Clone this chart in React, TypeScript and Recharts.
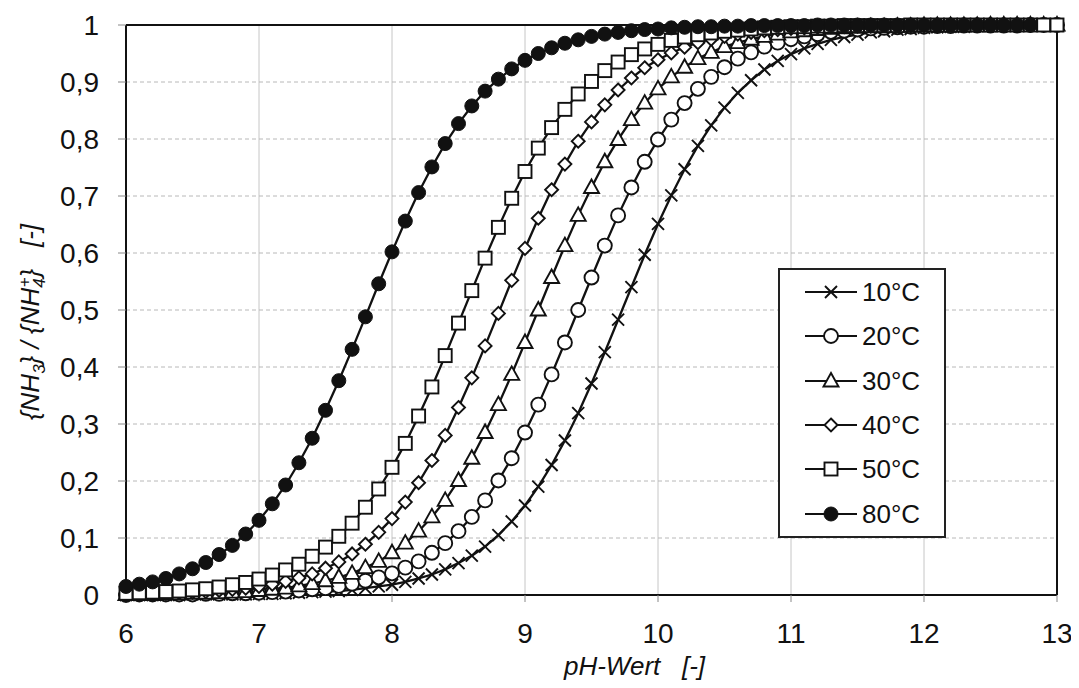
import React from 'react';

import {
  CartesianGrid,
  Legend,
  Line,
  LineChart,
  ReferenceLine,
  XAxis,
  YAxis,
} from 'recharts';

const FONT = '"Liberation Sans", Arial, sans-serif';
const INK = '#111';

const phValues = [
  6.0, 6.1, 6.2, 6.3, 6.4, 6.5, 6.6, 6.7, 6.8, 6.9,
  7.0, 7.1, 7.2, 7.3, 7.4, 7.5, 7.6, 7.7, 7.8, 7.9,
  8.0, 8.1, 8.2, 8.3, 8.4, 8.5, 8.6, 8.7, 8.8, 8.9,
  9.0, 9.1, 9.2, 9.3, 9.4, 9.5, 9.6, 9.7, 9.8, 9.9,
  10.0, 10.1, 10.2, 10.3, 10.4, 10.5, 10.6, 10.7, 10.8, 10.9,
  11.0, 11.1, 11.2, 11.3, 11.4, 11.5, 11.6, 11.7, 11.8, 11.9,
  12.0, 12.1, 12.2, 12.3, 12.4, 12.5, 12.6, 12.7, 12.8, 12.9,
  13.0,
];

const t10 = [
  0.000, 0.000, 0.000, 0.000, 0.000, 0.001, 0.001, 0.001, 0.001, 0.001,
  0.002, 0.002, 0.003, 0.004, 0.005, 0.006, 0.007, 0.009, 0.012, 0.015,
  0.018, 0.023, 0.029, 0.036, 0.045, 0.056, 0.069, 0.085, 0.105, 0.129,
  0.157, 0.190, 0.228, 0.271, 0.319, 0.371, 0.426, 0.483, 0.540, 0.597,
  0.651, 0.701, 0.747, 0.788, 0.824, 0.855, 0.881, 0.903, 0.922, 0.937,
  0.949, 0.959, 0.967, 0.974, 0.979, 0.983, 0.987, 0.989, 0.992, 0.993,
  0.995, 0.996, 0.997, 0.997, 0.998, 0.998, 0.999, 0.999, 0.999, 0.999,
  0.999,
];

const t20 = [
  0.000, 0.001, 0.001, 0.001, 0.001, 0.001, 0.002, 0.002, 0.003, 0.003,
  0.004, 0.005, 0.006, 0.008, 0.010, 0.012, 0.016, 0.020, 0.025, 0.031,
  0.038, 0.048, 0.059, 0.074, 0.091, 0.112, 0.137, 0.166, 0.201, 0.240,
  0.285, 0.334, 0.387, 0.443, 0.500, 0.557, 0.613, 0.666, 0.715, 0.760,
  0.799, 0.834, 0.863, 0.888, 0.909, 0.926, 0.941, 0.952, 0.962, 0.969,
  0.975, 0.980, 0.984, 0.988, 0.990, 0.992, 0.994, 0.995, 0.996, 0.997,
  0.997, 0.998, 0.998, 0.999, 0.999, 0.999, 0.999, 0.999, 1.000, 1.000,
  1.000,
];

const t30 = [
  0.001, 0.001, 0.001, 0.002, 0.002, 0.003, 0.003, 0.004, 0.005, 0.006,
  0.008, 0.010, 0.012, 0.016, 0.020, 0.025, 0.031, 0.038, 0.048, 0.059,
  0.074, 0.091, 0.112, 0.137, 0.166, 0.201, 0.240, 0.285, 0.334, 0.387,
  0.443, 0.500, 0.557, 0.613, 0.666, 0.715, 0.760, 0.799, 0.834, 0.863,
  0.888, 0.909, 0.926, 0.941, 0.952, 0.962, 0.969, 0.975, 0.980, 0.984,
  0.988, 0.990, 0.992, 0.994, 0.995, 0.996, 0.997, 0.997, 0.998, 0.998,
  0.999, 0.999, 0.999, 0.999, 0.999, 1.000, 1.000, 1.000, 1.000, 1.000,
  1.000,
];

const t40 = [
  0.002, 0.002, 0.002, 0.003, 0.004, 0.005, 0.006, 0.008, 0.010, 0.012,
  0.015, 0.019, 0.024, 0.030, 0.037, 0.047, 0.058, 0.072, 0.089, 0.110,
  0.134, 0.163, 0.197, 0.236, 0.280, 0.329, 0.381, 0.437, 0.494, 0.552,
  0.608, 0.661, 0.711, 0.756, 0.796, 0.830, 0.860, 0.886, 0.907, 0.925,
  0.939, 0.951, 0.961, 0.969, 0.975, 0.980, 0.984, 0.987, 0.990, 0.992,
  0.994, 0.995, 0.996, 0.997, 0.997, 0.998, 0.998, 0.999, 0.999, 0.999,
  0.999, 0.999, 1.000, 1.000, 1.000, 1.000, 1.000, 1.000, 1.000, 1.000,
  1.000,
];

const t50 = [
  0.003, 0.004, 0.005, 0.006, 0.007, 0.009, 0.011, 0.014, 0.018, 0.022,
  0.028, 0.035, 0.044, 0.054, 0.068, 0.084, 0.103, 0.126, 0.154, 0.186,
  0.224, 0.266, 0.314, 0.365, 0.420, 0.477, 0.534, 0.591, 0.645, 0.696,
  0.743, 0.784, 0.820, 0.852, 0.879, 0.901, 0.920, 0.935, 0.948, 0.958,
  0.966, 0.973, 0.979, 0.983, 0.986, 0.989, 0.991, 0.993, 0.995, 0.996,
  0.997, 0.997, 0.998, 0.998, 0.999, 0.999, 0.999, 0.999, 0.999, 1.000,
  1.000, 1.000, 1.000, 1.000, 1.000, 1.000, 1.000, 1.000, 1.000, 1.000,
  1.000,
];

// 80°C stops at pH 12.8 in the source, the 50°C squares close the row
const t80 = [
  0.015, 0.019, 0.023, 0.029, 0.037, 0.046, 0.057, 0.071, 0.087, 0.107,
  0.131, 0.160, 0.193, 0.232, 0.275, 0.324, 0.376, 0.431, 0.488, 0.546,
  0.602, 0.656, 0.706, 0.751, 0.792, 0.827, 0.858, 0.884, 0.905, 0.923,
  0.938, 0.950, 0.960, 0.968, 0.974, 0.980, 0.984, 0.987, 0.990, 0.992,
  0.993, 0.995, 0.996, 0.997, 0.997, 0.998, 0.998, 0.999, 0.999, 0.999,
  0.999, 0.999, 1.000, 1.000, 1.000, 1.000, 1.000, 1.000, 1.000, 1.000,
  1.000, 1.000, 1.000, 1.000, 1.000, 1.000, 1.000, 1.000, 1.000,
];

const xTicks = [6, 7, 8, 9, 10, 11, 12, 13];
const yTicks = [0, 0.1, 0.2, 0.3, 0.4, 0.5, 0.6, 0.7, 0.8, 0.9, 1];

type Shape = 'cross' | 'circle' | 'triangle' | 'diamond' | 'square' | 'dot';

interface Series {
  key: string;
  name: string;
  shape: Shape;
}

const series: Series[] = [
  { key: 't10', name: '10°C', shape: 'cross' },
  { key: 't20', name: '20°C', shape: 'circle' },
  { key: 't30', name: '30°C', shape: 'triangle' },
  { key: 't40', name: '40°C', shape: 'diamond' },
  { key: 't50', name: '50°C', shape: 'square' },
  { key: 't80', name: '80°C', shape: 'dot' },
];

const rows = phValues.map((ph, i) => ({
  ph,
  t10: t10[i],
  t20: t20[i],
  t30: t30[i],
  t40: t40[i],
  t50: t50[i],
  t80: t80[i],
}));

const formatComma = (v: number): string => String(v).replace('.', ',');

const Marker = ({
  shape,
  cx,
  cy,
}: {
  shape: Shape;
  cx: number;
  cy: number;
}): JSX.Element => {
  const common = { stroke: INK, strokeWidth: 1.9 };
  switch (shape) {
    case 'cross':
      return (
        <path
          d={`M${cx - 6},${cy - 6}L${cx + 6},${cy + 6}M${cx - 6},${cy + 6}L${cx + 6},${cy - 6}`}
          fill="none"
          {...common}
        />
      );
    case 'circle':
      return <circle cx={cx} cy={cy} r={7} fill="#fff" {...common} />;
    case 'triangle':
      return (
        <polygon
          points={`${cx},${cy - 8} ${cx + 7.5},${cy + 5.5} ${cx - 7.5},${cy + 5.5}`}
          fill="#fff"
          {...common}
        />
      );
    case 'diamond':
      return (
        <polygon
          points={`${cx},${cy - 6.5} ${cx + 6.5},${cy} ${cx},${cy + 6.5} ${cx - 6.5},${cy}`}
          fill="#fff"
          {...common}
        />
      );
    case 'square':
      return (
        <rect x={cx - 6.5} y={cy - 6.5} width={13} height={13} fill="#fff" {...common} />
      );
    default:
      return <circle cx={cx} cy={cy} r={7} fill={INK} stroke={INK} strokeWidth={1} />;
  }
};

const renderDot =
  (shape: Shape) =>
  (props: any): JSX.Element => {
    const { cx, cy, index } = props;
    if (cx == null || cy == null) return <g key={`none-${index}`} />;
    return (
      <g key={`dot-${index}`}>
        <Marker shape={shape} cx={cx} cy={cy} />
      </g>
    );
  };

const LegendBox = (): JSX.Element => (
  <div
    style={{
      width: 168,
      height: 270,
      boxSizing: 'border-box',
      border: `2px solid #222`,
      background: '#fff',
      display: 'flex',
      flexDirection: 'column',
      justifyContent: 'space-around',
      fontFamily: FONT,
      fontSize: 26,
      color: INK,
    }}
  >
    {series.map((s) => (
      <div key={s.key} style={{ display: 'flex', alignItems: 'center', height: 44 }}>
        <svg width={52} height={22} style={{ marginLeft: 25 }}>
          <line x1={0} y1={11} x2={52} y2={11} stroke={INK} strokeWidth={2.2} />
          <Marker shape={s.shape} cx={26} cy={11} />
        </svg>
        <span style={{ marginLeft: 5, lineHeight: '26px' }}>{s.name}</span>
      </div>
    ))}
  </div>
);

const YLabel = ({ viewBox }: any): JSX.Element => {
  const x = 31;
  const y = viewBox.y + viewBox.height / 2 + 12;
  return (
    <text
      x={x}
      y={y}
      transform={`rotate(-90 ${x} ${y})`}
      textAnchor="middle"
      fontFamily={FONT}
      fontStyle="italic"
      fontSize={26}
      fill={INK}
    >
      {'{NH'}
      <tspan dy={6} fontSize={17}>3</tspan>
      <tspan dy={-6}>{'} / {NH'}</tspan>
      <tspan dy={6} fontSize={17}>4</tspan>
      <tspan dx={-9} dy={-15} fontSize={17}>+</tspan>
      <tspan dy={9}>{'}\u00a0\u00a0\u00a0[-]'}</tspan>
    </text>
  );
};

const XLabel = ({ viewBox }: any): JSX.Element => (
  <text
    x={viewBox.x + viewBox.width / 2 + 43}
    y={viewBox.y + 80}
    textAnchor="middle"
    fontFamily={FONT}
    fontStyle="italic"
    fontSize={26}
    fill={INK}
  >
    {'pH-Wert\u00a0\u00a0\u00a0[-]'}
  </text>
);

export default function App(): JSX.Element {
  return (
    <div style={{ width: 1064, height: 680, background: '#fff' }}>
      <LineChart
        width={1064}
        height={680}
        data={rows}
        margin={{ top: 17, right: 15, left: 0, bottom: 0 }}
      >
        <CartesianGrid horizontal={false} stroke="#c6c6c6" />
        <CartesianGrid vertical={false} stroke="#b8b8b8" strokeDasharray="4 3" />
        <XAxis
          dataKey="ph"
          type="number"
          domain={[6, 13]}
          ticks={xTicks}
          height={93}
          tickSize={7}
          tickMargin={21}
          axisLine={{ stroke: INK, strokeWidth: 2 }}
          tickLine={{ stroke: '#888' }}
          tick={{ fill: INK, fontSize: 28, fontFamily: FONT }}
          label={(props: any) => <XLabel {...props} />}
        />
        <YAxis
          type="number"
          domain={[0, 1]}
          ticks={yTicks}
          width={118}
          tickSize={8}
          tickMargin={19}
          tickFormatter={formatComma}
          axisLine={{ stroke: INK, strokeWidth: 2 }}
          tickLine={{ stroke: '#888' }}
          tick={{ fill: INK, fontSize: 28, fontFamily: FONT }}
          label={(props: any) => <YLabel {...props} />}
        />
        <ReferenceLine x={13} stroke={INK} strokeWidth={2} />
        <ReferenceLine y={1} stroke={INK} strokeWidth={2} />
        {series.map((s) => (
          <Line
            key={s.key}
            dataKey={s.key}
            name={s.name}
            type="linear"
            stroke={INK}
            strokeWidth={2.3}
            dot={renderDot(s.shape)}
            activeDot={false}
            isAnimationActive={false}
          />
        ))}
        <Legend
          layout="vertical"
          align="center"
          verticalAlign="middle"
          content={() => <LegendBox />}
          wrapperStyle={{ left: 770, top: 260, width: 168, height: 270 }}
        />
      </LineChart>
    </div>
  );
}
